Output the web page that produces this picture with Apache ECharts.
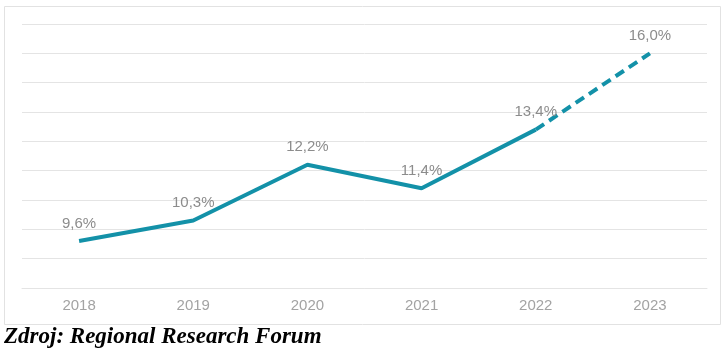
<!DOCTYPE html>
<html><head><meta charset="utf-8">
<script src="https://cdn.jsdelivr.net/npm/echarts@6/dist/echarts.min.js"></script>
<style>html,body{margin:0;padding:0;background:#fff}#c{width:728px;height:358px}</style>
</head><body><div id="c"></div>
<script>
var years = ['2018','2019','2020','2021','2022','2023'];
var actual = [9.6, 10.3, 12.2, 11.4, 13.4, null];
var forecast = [null, null, null, null, 13.4, 16.0];
var sourceText = 'Zdroj: Regional Research Forum';
var fmt = function(p){ return p.value == null ? '' : p.value.toFixed(1).replace('.', ',') + '%'; };
var chart = echarts.init(document.getElementById('c'));
chart.setOption({
  animation: false,
  grid: {left: 22, right: 21, top: 24, bottom: 70},
  xAxis: {type: 'category', data: years, boundaryGap: true,
    axisLine: {show: true, lineStyle: {color: '#e4e4e4', width: 1}},
    axisTick: {show: false},
    axisLabel: {color: '#a3a3a3', fontSize: 15, fontFamily: 'Liberation Sans, Arial', margin: 10}},
  yAxis: {type: 'value', min: 8, max: 17, interval: 1,
    axisLabel: {show: false}, axisLine: {show: false}, axisTick: {show: false},
    splitLine: {lineStyle: {color: '#e4e4e4', width: 1}}},
  graphic: [
    {type: 'rect', shape: {x: 4.5, y: 6.5, width: 716, height: 318}, style: {fill: 'none', stroke: '#e2e2e2', lineWidth: 1}, z: -1},
    {type: 'text', left: 4, top: 326, style: {text: sourceText, font: 'italic bold 23px "Liberation Serif", "Times New Roman", serif', fill: '#000'}}
  ],
  series: [
    {type: 'line', data: actual, symbol: 'circle', symbolSize: 0, showSymbol: true, connectNulls: false,
      lineStyle: {color: '#1391a8', width: 4}, itemStyle: {color: '#1391a8'},
      label: {show: true, position: 'top', distance: 10, formatter: fmt, color: '#8c8c8c', fontSize: 15, fontFamily: 'Liberation Sans, Arial'}},
    {type: 'line', data: forecast, symbol: 'circle', symbolSize: 0, showSymbol: true,
      lineStyle: {color: '#1391a8', width: 4, type: [10, 6]}, itemStyle: {color: '#1391a8'},
      label: {show: true, position: 'top', distance: 10, formatter: function(p){ return p.dataIndex === 5 ? fmt(p) : ''; }, color: '#8c8c8c', fontSize: 15, fontFamily: 'Liberation Sans, Arial'}}
  ]
});
</script></body></html>
